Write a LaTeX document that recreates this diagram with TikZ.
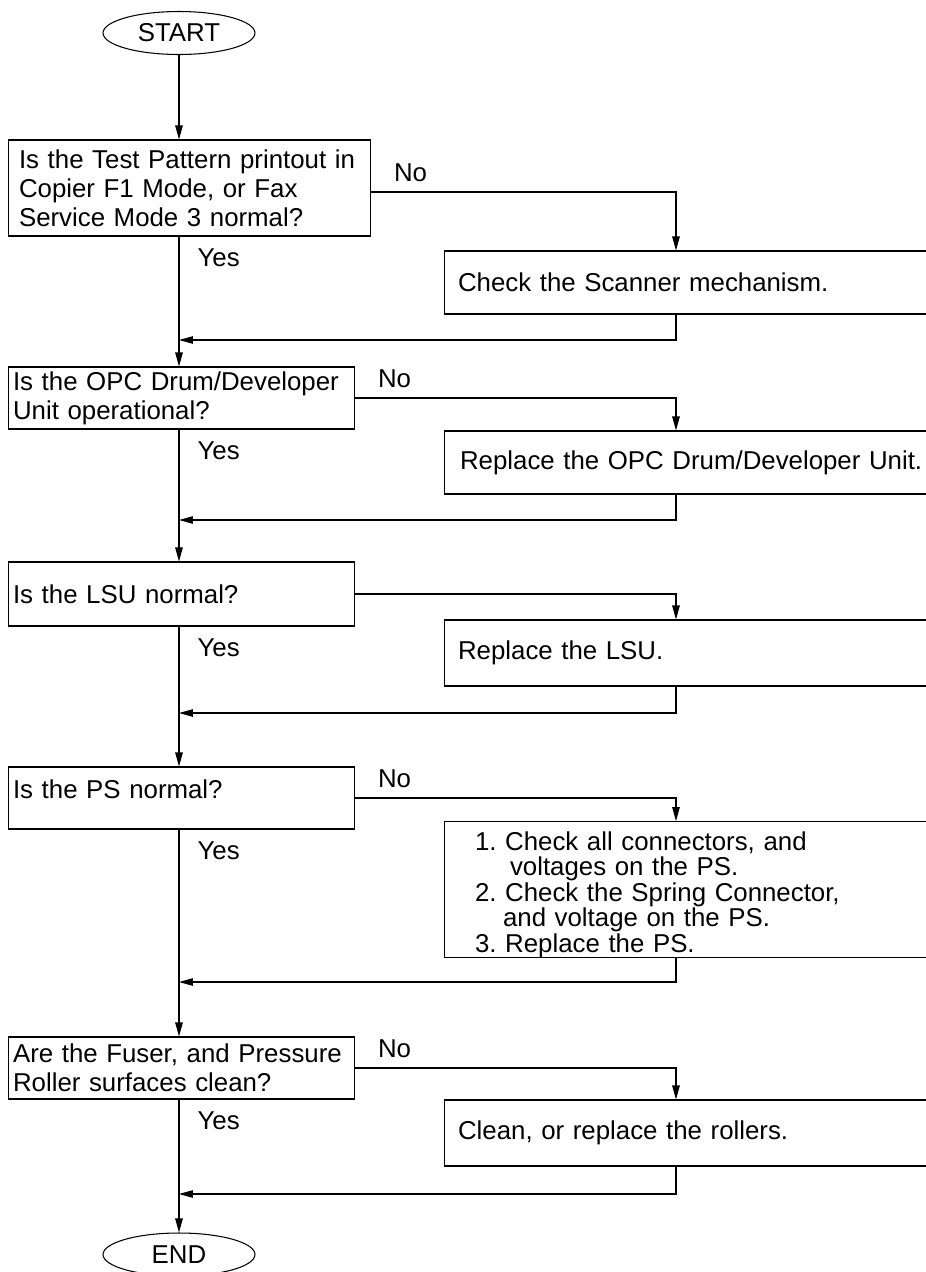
\documentclass[tikz,border=0pt]{standalone}
\usepackage{fontspec}
\setmainfont{Liberation Sans}
\usepackage{tikz}
\usetikzlibrary{positioning,arrows.meta,calc,shapes.geometric}

\begin{document}
\frenchspacing
\begin{tikzpicture}[
    x=0.02cm, y=-0.02cm, line width=0.6pt,
    every node/.style={font=\fontsize{14.7}{16.5}\selectfont},
    term/.style={draw, ellipse, minimum width=3.04cm, minimum height=0.86cm, inner sep=0pt},
    query/.style={draw, rectangle, align=left, text width=6.74cm, inner xsep=0.1cm, inner ysep=0pt, minimum height=1.24cm},
    fix/.style={draw, rectangle, align=left, text width=9.76cm, inner xsep=0.28cm, inner ysep=0pt, minimum height=1.26cm},
    arr/.style={-{Triangle[length=0.28cm, width=0.15cm]}},
    yes/.style={at start, anchor=north west, inner sep=0pt, xshift=0.36cm, yshift=-0.24cm},
    no/.style={at start, anchor=south west, inner sep=0pt, xshift=0.44cm, yshift=0.2cm}
  ]
    \useasboundingbox (0,0) rectangle (926,1272);
    \clip (0,0) rectangle (926,1272);

    % terminals and boxes
    \node[term] (start) at (179,33) {START};
    \node[query, text width=6.82cm, inner xsep=0.22cm, minimum height=1.92cm] (q1) at (189.5,188)
      {Is the Test Pattern printout in\\Copier F1 Mode, or Fax\\Service Mode 3 normal?};
    \node[fix] (a1) at (702,282.5) {Check the Scanner mechanism.};
    \node[query] (q2) at (181.5,398) {Is the OPC Drum/Developer\\Unit operational?};
    \node[fix, text width=9.68cm, inner xsep=0.32cm] (a2) at (702,462.5) {Replace the OPC Drum/Developer Unit.};
    \node[query, minimum height=1.28cm] (q3) at (181.5,594) {Is the LSU normal?};
    \node[fix, minimum height=1.32cm] (a3) at (702,653) {Replace the LSU.};
    \node[query, text depth=0.35cm] (q4) at (181.5,798) {Is the PS normal?};
    \node[fix, text width=9.08cm, inner xsep=0.62cm, minimum height=2.7cm, font=\fontsize{14.7}{14.5}\selectfont] (a4) at (702,889.5)
      {\rule{0pt}{0.57cm}1. Check all connectors, and\\\hspace*{0.7cm}voltages on the PS.\\2. Check the Spring Connector,\\\hspace*{0.56cm}and voltage on the PS.\\3. Replace the PS.};
    \node[query] (q5) at (181.5,1068) {Are the Fuser, and Pressure\\Roller surfaces clean?};
    \node[fix, minimum height=1.32cm] (a5) at (702,1133) {Clean, or replace the rollers.};
    \node[term] (end) at (179,1254.5) {END};

    \coordinate (drop) at (676,0);
    \coordinate (j1) at (179,340);
    \coordinate (j2) at (179,520);
    \coordinate (j3) at (179,713);
    \coordinate (j4) at (179,982);
    \coordinate (j5) at (179,1194);

    % main line
    \draw[arr] (start) -- (q1.north -| start);
    \draw[arr] (q1.south -| start) -- node[yes] {Yes} (q2.north -| start);
    \draw[arr] (q2.south -| start) -- node[yes] {Yes} (q3.north -| start);
    \draw[arr] (q3.south -| start) -- node[yes] {Yes} (q4.north -| start);
    \draw[arr] (q4.south -| start) -- node[yes] {Yes} (q5.north -| start);
    \draw[arr] (q5.south -| start) -- node[yes] {Yes} (end);

    % branches
    \draw[arr] ([yshift=-0.08cm]q1.east) -| node[no] {No} (a1.north -| drop);
    \draw[arr] (q2.east) -| node[no] {No} (a2.north -| drop);
    \draw[arr] (q3.east) -| (a3.north -| drop);
    \draw[arr] (q4.east) -| node[no] {No} (a4.north -| drop);
    \draw[arr] (q5.east) -| node[no] {No} (a5.north -| drop);

    % back to main line
    \draw[arr] (a1.south -| drop) |- (j1);
    \draw[arr] (a2.south -| drop) |- (j2);
    \draw[arr] (a3.south -| drop) |- (j3);
    \draw[arr] (a4.south -| drop) |- (j4);
    \draw[arr] (a5.south -| drop) |- (j5);
  \end{tikzpicture}
\end{document}
